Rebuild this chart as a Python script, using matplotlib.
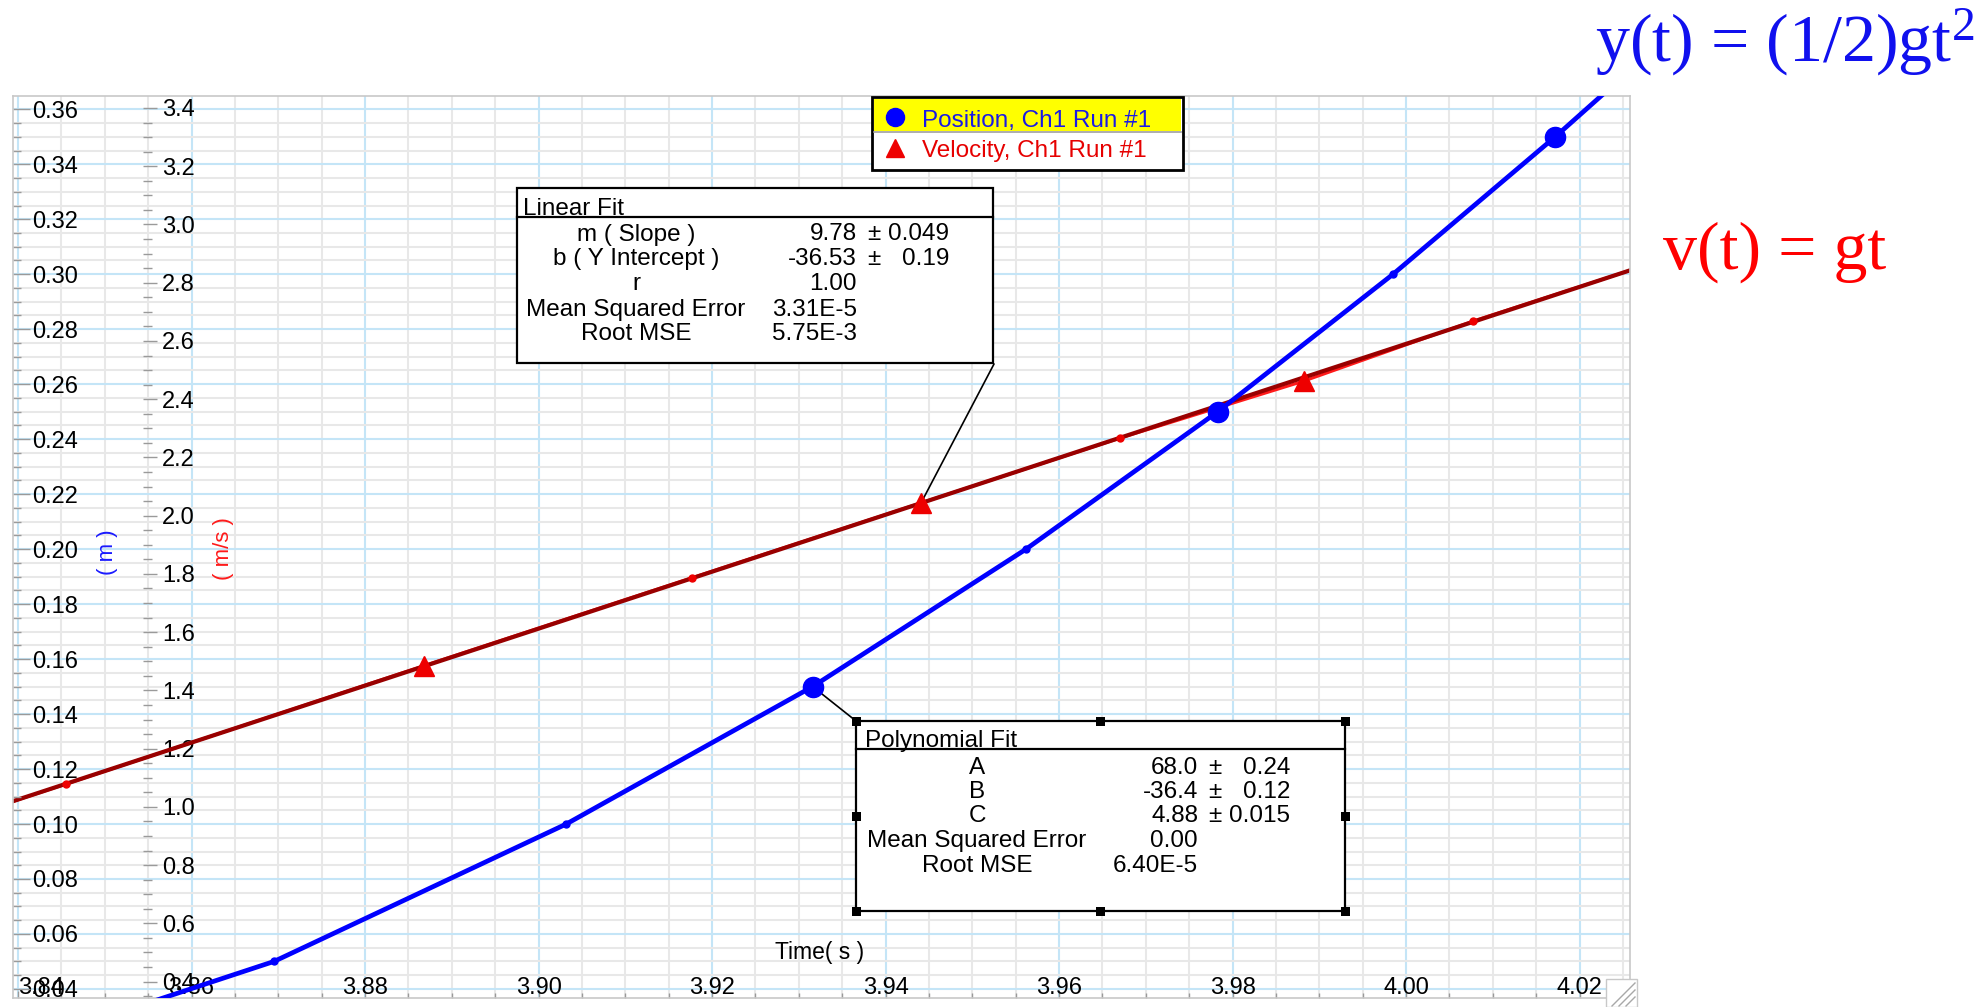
import matplotlib
matplotlib.use("Agg")
import matplotlib.pyplot as plt
from matplotlib.patches import Rectangle
from matplotlib.lines import Line2D
from matplotlib.ticker import MultipleLocator
import numpy as np

plt.rcParams['font.family'] = ['Liberation Sans', 'DejaVu Sans']
plt.rcParams['mathtext.fontset'] = 'custom'
plt.rcParams['mathtext.rm'] = 'Liberation Serif'
plt.rcParams['mathtext.it'] = 'Liberation Serif:italic'
plt.rcParams['mathtext.default'] = 'rm'

# ---------------- data ----------------
pos_t = [3.8214, 3.8695, 3.9032, 3.9316, 3.9562, 3.9783, 3.9985, 4.0172, 4.0350]
pos_y = [0.00, 0.05, 0.10, 0.15, 0.20, 0.25, 0.30, 0.35, 0.40]
pos_big_idx = [3, 5, 7]
pos_small_idx = [1, 2, 4, 6]

vel_t = [3.7965, 3.8455, 3.8868, 3.9177, 3.9441, 3.9670, 3.9882, 4.0077, 4.0262]
vel_v = [0.600, 1.078, 1.485, 1.787, 2.044, 2.266, 2.462, 2.668, 2.846]
vel_big_idx = [2, 4, 6]
vel_small_idx = [1, 3, 5, 7]

lin_fit_m = 9.78
lin_fit_b = -36.53

x_ticks = [3.84, 3.86, 3.88, 3.90, 3.92, 3.94, 3.96, 3.98, 4.00, 4.02]
x_tick_labels = ["3.84", "3.86", "3.88", "3.90", "3.92", "3.94", "3.96", "3.98", "4.00", "4.02"]
pos_ticks = [0.04, 0.06, 0.08, 0.10, 0.12, 0.14, 0.16, 0.18, 0.20, 0.22, 0.24,
             0.26, 0.28, 0.30, 0.32, 0.34, 0.36]
pos_tick_labels = ["%.2f" % v for v in pos_ticks]
vel_ticks = [0.4, 0.6, 0.8, 1.0, 1.2, 1.4, 1.6, 1.8, 2.0, 2.2, 2.4, 2.6, 2.8,
             3.0, 3.2, 3.4]
vel_tick_labels = ["%.1f" % v for v in vel_ticks]

legend_labels = ["Position, Ch1 Run #1", "Velocity, Ch1 Run #1"]
linear_title = "Linear Fit"
linear_rows = [("m ( Slope )", "9.78", "0.049"),
               ("b ( Y Intercept )", "-36.53", "0.19"),
               ("r", "1.00", ""),
               ("Mean Squared Error", "3.31E-5", ""),
               ("Root MSE", "5.75E-3", "")]
poly_title = "Polynomial Fit"
poly_rows = [("A", "68.0", "0.24"),
             ("B", "-36.4", "0.12"),
             ("C", "4.88", "0.015"),
             ("Mean Squared Error", "0.00", ""),
             ("Root MSE", "6.40E-5", "")]

# ---------------- layout ----------------
W, H = 1988, 1007
fig = plt.figure(figsize=(W / 100, H / 100), dpi=100)
fig.patch.set_facecolor("white")


def fx(px):
    return px / W


def fy(py):
    return 1 - py / H


rect = [fx(13), fy(998), fx(1630) - fx(13), fy(96) - fy(998)]
axg = fig.add_axes(rect)
ax = fig.add_axes(rect, sharex=axg, sharey=axg)
axv = ax.twinx()

axg.set_zorder(0)
axv.set_zorder(1)
ax.set_zorder(2)
ax.patch.set_visible(False)
axv.patch.set_visible(False)
axg.patch.set_facecolor("white")

ax.set_xlim(3.83942, 4.02582)
ax.set_ylim(0.03671, 0.36484)
axv.set_ylim(0.3437, 3.4412)

ax.set_xticks(x_ticks, labels=x_tick_labels)
ax.set_yticks(pos_ticks, labels=pos_tick_labels)
ax.xaxis.set_minor_locator(MultipleLocator(0.005))
ax.yaxis.set_minor_locator(MultipleLocator(0.005))
axv.set_yticks(vel_ticks, labels=vel_tick_labels)
axv.yaxis.set_minor_locator(MultipleLocator(0.05))

# grid on bottom axes
axg.grid(which="major", color="#c4e5f7", lw=1.5)
axg.grid(which="minor", color="#e8e8e8", lw=1.5)
axg.tick_params(which="both", length=0, labelbottom=False, labelleft=False)
for s in axg.spines.values():
    s.set_visible(False)

tick_col = "#9a9a9a"
for s in ax.spines.values():
    s.set_color("#c8c8c8")
    s.set_linewidth(1.2)
ax.tick_params(axis="y", which="major", direction="in", length=12, width=1,
               color=tick_col, pad=-46.8, labelsize=17, labelcolor="black")
ax.tick_params(axis="y", which="minor", direction="in", length=5.8, width=1,
               color=tick_col)
ax.tick_params(axis="x", which="major", direction="in", length=5, width=1,
               color=tick_col, pad=-15, labelsize=17, labelcolor="black")
ax.tick_params(axis="x", which="minor", direction="in", length=3.6, width=1,
               color=tick_col)
ax.get_xticklabels()[0].set_ha("left")

for k in ["left", "top", "bottom"]:
    axv.spines[k].set_visible(False)
axv.spines["right"].set_position(("axes", (143 - 13) / 1617))
axv.spines["right"].set_color("none")
axv.tick_params(axis="y", which="major", direction="out", length=10, width=1,
                color=tick_col, pad=3.6, labelsize=17, labelcolor="black")
axv.tick_params(axis="y", which="minor", direction="out", length=6.5, width=1,
                color=tick_col)

# ---------------- data marks ----------------
blue = "#0000ff"
ax.plot(pos_t, pos_y, color=blue, lw=3.4, solid_capstyle="round", zorder=3)
ax.plot([pos_t[i] for i in pos_big_idx], [pos_y[i] for i in pos_big_idx],
        "o", ms=14.5, color=blue, zorder=4)
ax.plot([pos_t[i] for i in pos_small_idx], [pos_y[i] for i in pos_small_idx],
        "o", ms=5, color=blue, zorder=4)

axv.plot(vel_t, vel_v, color="#ff1a1a", lw=2.2, zorder=2)
tt = np.array(ax.get_xlim())
axv.plot(tt, lin_fit_m * tt + lin_fit_b, color="#990000", lw=3.0, zorder=3)
axv.plot([vel_t[i] for i in vel_big_idx], [vel_v[i] for i in vel_big_idx],
         "^", ms=14, color="#ee0000", zorder=4)
axv.plot([vel_t[i] for i in vel_small_idx], [vel_v[i] for i in vel_small_idx],
         "o", ms=5, color="#ee0000", zorder=4)

# connectors from data points to fit boxes
axv.annotate("", xy=(vel_t[4], vel_v[4]), xycoords="data",
             xytext=(fx(994), fy(364)), textcoords="figure fraction",
             arrowprops=dict(arrowstyle="-", color="black", lw=1.2,
                             shrinkA=0, shrinkB=0))
ax.annotate("", xy=(pos_t[3], pos_y[3]), xycoords="data",
            xytext=(fx(856), fy(721)), textcoords="figure fraction",
            arrowprops=dict(arrowstyle="-", color="black", lw=1.2,
                            shrinkA=0, shrinkB=0))

# ---------------- axis labels ----------------
fig.text(fx(108), fy(552), "( m )", rotation=90, color="#1a1aff",
         fontsize=16, ha="center", va="center", zorder=12)
fig.text(fx(223), fy(549), "( m/s )", rotation=90, color="#ff1a1a",
         fontsize=16, ha="center", va="center", zorder=12)
fig.text(fx(820), fy(952), "Time( s )", color="black", fontsize=16.5,
         ha="center", va="center", zorder=12)


# ---------------- helpers for boxes ----------------
def box(x0, y0, x1, y1, fc="white", ec="black", lw=1.6, z=10):
    r = Rectangle((fx(x0), fy(y1)), fx(x1) - fx(x0), fy(y0) - fy(y1),
                  transform=fig.transFigure, facecolor=fc, edgecolor=ec,
                  lw=lw, zorder=z)
    fig.add_artist(r)


def hline(x0, x1, y, color="black", lw=1.6, z=11):
    fig.add_artist(Line2D([fx(x0), fx(x1)], [fy(y), fy(y)],
                          transform=fig.transFigure, color=color, lw=lw,
                          zorder=z))


def txt(x, y, s, **kw):
    kw.setdefault("zorder", 12)
    kw.setdefault("fontsize", 17.5)
    return fig.text(fx(x), fy(y), s, **kw)


# legend
box(872, 97, 1183, 170, lw=2.0)
box(874, 99, 1181, 131, fc="#ffff00", ec="none", lw=0, z=10.5)
hline(874, 1181, 132, color="#a0a0a0", lw=1.2)
fig.add_artist(Line2D([fx(895)], [fy(117)], marker="o", ms=13, color=blue,
                      ls="none", transform=fig.transFigure, zorder=12))
fig.add_artist(Line2D([fx(895)], [fy(148)], marker="^", ms=13,
                      color="#ee0000", ls="none", transform=fig.transFigure,
                      zorder=12))
txt(922, 126.5, legend_labels[0], color="#1a1ae6", va="baseline")
txt(922, 157, legend_labels[1], color="#e60000", va="baseline")

# linear fit box
box(517, 188, 993, 363)
hline(517, 993, 217)
txt(523, 215, linear_title, va="baseline")
lin_y = [232, 257, 282, 307, 332]
for (lab, val, err), yc in zip(linear_rows, lin_y):
    yb = yc + 8.5
    txt(636, yb, lab, ha="center", va="baseline")
    txt(857, yb, val, ha="right", va="baseline")
    if err:
        txt(874, yb, "\u00b1", ha="center", va="baseline")
        txt(949, yb, err, ha="right", va="baseline")

# polynomial fit box
box(856, 721, 1345, 911)
hline(856, 1345, 749)
txt(865, 747, poly_title, va="baseline")
poly_y = [765, 789.5, 814, 838.5, 863]
for (lab, val, err), yc in zip(poly_rows, poly_y):
    yb = yc + 8.5
    txt(977, yb, lab, ha="center", va="baseline")
    txt(1198, yb, val, ha="right", va="baseline")
    if err:
        txt(1215, yb, "\u00b1", ha="center", va="baseline")
        txt(1290, yb, err, ha="right", va="baseline")
for hx in (856, 1100.5, 1345):
    for hy in (721, 911):
        box(hx - 4.5, hy - 4.5, hx + 4.5, hy + 4.5, fc="black", ec="none",
            lw=0, z=13)
for hx in (856, 1345):
    box(hx - 4.5, 816 - 4.5, hx + 4.5, 816 + 4.5, fc="black", ec="none",
        lw=0, z=13)

# resize grip
box(1606, 979, 1637, 1007, fc="white", ec="#c8c8c8", lw=1.0, z=10)
for a in (0, 7, 14):
    fig.add_artist(Line2D([fx(1612 + a), fx(1635)], [fy(1006), fy(983 + a)],
                          transform=fig.transFigure, color="#a8a8a8", lw=1.0,
                          zorder=11))

# formulas
fig.text(fx(1595), fy(62), "y(t) = (1/2)gt$^2$", family="Liberation Serif",
         fontsize=49, color="#1010ee", va="baseline", zorder=12)
fig.text(fx(1663), fy(269), "v(t) = gt", family="Liberation Serif",
         fontsize=49, color="#ff0000", va="baseline", zorder=12)

fig.savefig("out.png", dpi=100, facecolor="white")
